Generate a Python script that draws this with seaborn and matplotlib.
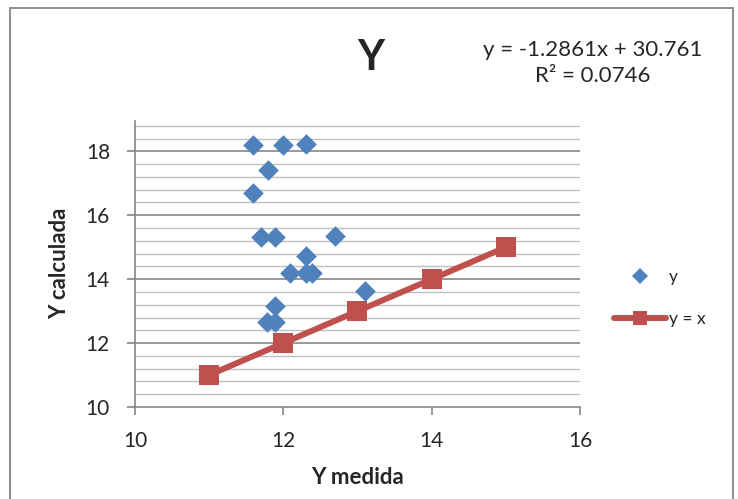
import matplotlib
matplotlib.use("Agg")
import matplotlib.pyplot as plt
import seaborn as sns
import pandas as pd
import numpy as np
from matplotlib.lines import Line2D
from matplotlib.patches import Rectangle

# Data
y_medida = [11.59, 11.99, 12.30, 11.79, 11.59, 11.70, 11.89, 12.69,
            12.30, 12.09, 12.30, 12.39, 13.10, 11.89, 11.78, 11.89]
y_calculada = [18.21, 18.21, 18.23, 17.41, 16.69, 15.33, 15.33, 15.35,
               14.74, 14.18, 14.18, 14.18, 13.64, 13.15, 12.66, 12.66]
ref_x = [11, 12, 13, 14, 15]
ref_y = [11, 12, 13, 14, 15]
x_ticks = [10, 12, 14, 16]
y_ticks = [10, 12, 14, 16, 18]
title = "Y"
eq_text = "y = -1.2861x + 30.761"
r2_text = "R² = 0.0746"

sns.set_theme(style="white")
plt.rcParams['font.family'] = ['Lato', 'DejaVu Sans']

blue = "#4F81BD"
red = "#C0504D"
gray = "#868686"

W, H = 738, 499
fig = plt.figure(figsize=(W/100, H/100), dpi=100)
ax = fig.add_axes([135/W, 1-407/H, (580-135)/W, (407-121)/H])

df_pts = pd.DataFrame({"x": y_medida, "y": y_calculada})
df_ref = pd.DataFrame({"x": ref_x, "y": ref_y})

# gridlines
for v in np.arange(10.4, 19.0, 0.4):
    if abs(v - round(v)) < 1e-6 and int(round(v)) % 2 == 0:
        continue
    ax.axhline(v, color="#BFBFBF", lw=1.0, zorder=0)
for v in y_ticks[1:]:
    ax.axhline(v, color=gray, lw=1.2, zorder=0)

sns.lineplot(data=df_ref, x="x", y="y", ax=ax, color=red, lw=4.3,
             marker="s", markersize=15, markeredgewidth=0, zorder=3)
sns.scatterplot(data=df_pts, x="x", y="y", ax=ax, color=blue, marker="D",
                s=110, linewidth=0, zorder=4)

ax.set_xlim(10, 16)
ax.set_ylim(10, 18.95)
ax.set_xticks(x_ticks)
ax.set_yticks(y_ticks)
ax.tick_params(axis="both", labelsize=15, length=6, width=1.2, color=gray,
               direction="out", bottom=True, left=True)
ax.tick_params(axis="x", pad=11)
ax.tick_params(axis="y", pad=12)
for s in ["top", "right"]:
    ax.spines[s].set_visible(False)
for s in ["left", "bottom"]:
    ax.spines[s].set_color(gray)
    ax.spines[s].set_linewidth(1.2)
ax.set_xlabel("")
ax.set_ylabel("")
ax.set_facecolor("white")

fig.text(357/W, 1-478/H, "Y medida", fontsize=16, fontweight="bold",
         ha="center", va="center")
fig.text(60/W, 1-263/H, "Y calculada", fontsize=16, fontweight="bold",
         ha="center", va="center", rotation=90)

fig.text(371/W, 1-58/H, title, fontsize=30, fontweight="bold",
         ha="center", va="center")
fig.text(593/W, 1-50/H, eq_text, fontsize=16, ha="center", va="center")
fig.text(593/W, 1-76/H, r2_text, fontsize=16, ha="center", va="center")

handles = [
    Line2D([], [], color=blue, marker="D", linestyle="none", markersize=8,
           markeredgewidth=0),
    Line2D([], [], color=red, marker="s", lw=4.3, markersize=10,
           markeredgewidth=0),
]
fig.legend(handles, ["y", "y = x"], loc="center left",
           bbox_to_anchor=(598/W, 1-298/H), frameon=False, fontsize=12.5,
           handlelength=3.0, labelspacing=1.5, handletextpad=0.2)

fig.patches.append(Rectangle((9.5/W, -0.05), (732.5-9.5)/W, 1.05 - 7.5/H,
                             transform=fig.transFigure, fill=False,
                             edgecolor=gray, lw=1.3))

fig.savefig("out.png", dpi=100)
